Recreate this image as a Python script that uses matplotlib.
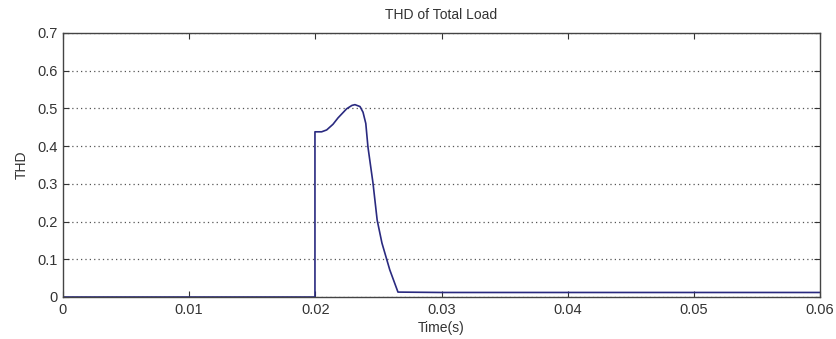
import matplotlib
matplotlib.use("Agg")
import matplotlib.pyplot as plt

plt.rcParams["font.family"] = ["Liberation Sans", "DejaVu Sans"]

# curve points
time_s = [0.0, 0.01997, 0.01997, 0.0205, 0.0209, 0.0214, 0.0218, 0.02248,
          0.0229, 0.02314, 0.02354, 0.02378, 0.0240, 0.02417, 0.02457,
          0.0249, 0.02528, 0.0259, 0.02655, 0.0300, 0.0400, 0.0500, 0.0600]
thd = [0.0, 0.0, 0.438, 0.438, 0.443, 0.458, 0.475, 0.499,
       0.508, 0.510, 0.505, 0.49, 0.46, 0.398, 0.302,
       0.204, 0.143, 0.072, 0.013, 0.012, 0.012, 0.012, 0.012]

x_ticks = [0, 0.01, 0.02, 0.03, 0.04, 0.05, 0.06]
x_labels = ["0", "0.01", "0.02", "0.03", "0.04", "0.05", "0.06"]
y_ticks = [0, 0.1, 0.2, 0.3, 0.4, 0.5, 0.6, 0.7]
y_labels = ["0", "0.1", "0.2", "0.3", "0.4", "0.5", "0.6", "0.7"]

fig = plt.figure(figsize=(8.37, 3.39), dpi=100)
ax = fig.add_axes([63 / 837, 1 - 297 / 339, (820 - 63) / 837, (297 - 33) / 339])

ax.plot(time_s, thd, color="#2a2a80", linewidth=1.2)

ax.set_xlim(0, 0.06)
ax.set_ylim(0, 0.7)
ax.set_xticks(x_ticks)
ax.set_xticklabels(x_labels)
ax.set_yticks(y_ticks)
ax.set_yticklabels(y_labels)
ax.yaxis.grid(True, linestyle=(0, (1, 2.5)), color="#555555", linewidth=0.9)
ax.tick_params(direction="in", top=True, right=True, labelsize=10.5,
               colors="#333333", length=4, pad=4)
for s in ax.spines.values():
    s.set_color("#444444")
    s.set_linewidth(1.0)

ax.set_title("THD of Total Load", fontsize=10, color="#333333", pad=10)
ax.set_xlabel("Time(s)", fontsize=10, color="#333333", labelpad=3)
ax.set_ylabel("THD", fontsize=10, color="#333333", labelpad=6)

fig.savefig("out.png", dpi=100)
